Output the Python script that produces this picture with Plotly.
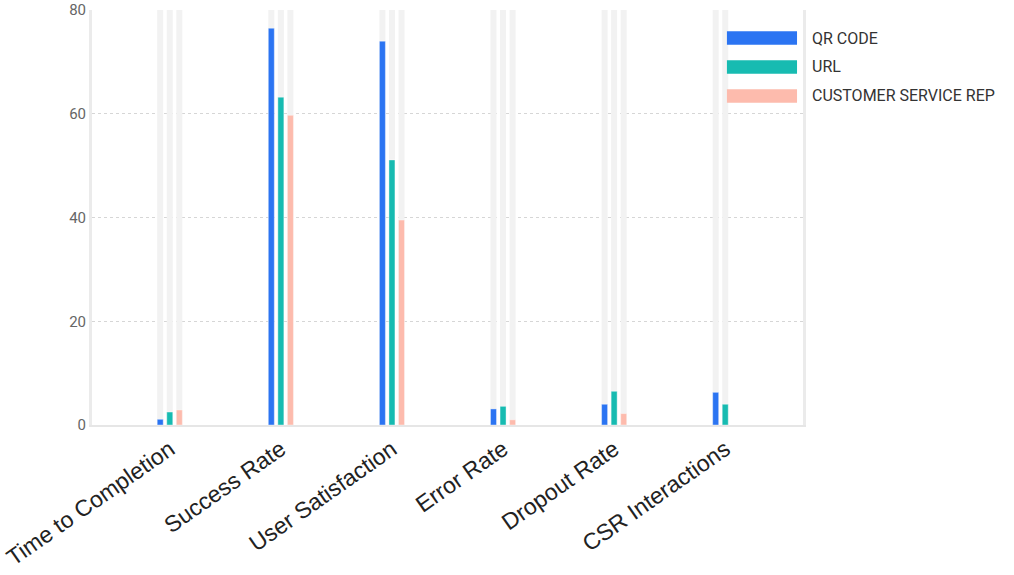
import plotly.graph_objects as go

metrics = ["Time to Completion", "Success Rate", "User Satisfaction",
           "Error Rate", "Dropout Rate", "CSR Interactions"]
qr_code = [1.1, 76.5, 74.0, 3.1, 4.0, 6.3]
url = [2.5, 63.2, 51.1, 3.6, 6.5, 4.0]
csr = [2.9, 59.7, 39.5, 1.0, 2.2, None]

series = [("QR CODE", qr_code, "#2b74f2"),
          ("URL", url, "#17bbb1"),
          ("CUSTOMER SERVICE REP", csr, "#fdbbad")]

y_max = 80
bar_w = 0.054
step = 0.086

fig = go.Figure()

# grey tracks behind each bar
for i, (name, vals, color) in enumerate(series):
    track = [y_max if v is not None else None for v in vals]
    fig.add_trace(go.Bar(x=metrics, y=track, width=bar_w,
                         offset=(i - 1) * step - bar_w / 2,
                         marker=dict(color="#f2f2f2", line=dict(width=0)),
                         hoverinfo="skip", showlegend=False))

for i, (name, vals, color) in enumerate(series):
    fig.add_trace(go.Bar(x=metrics, y=vals, name=name, width=bar_w,
                         offset=(i - 1) * step - bar_w / 2,
                         marker=dict(color=color, line=dict(width=0.8, color="rgba(255,255,255,0.5)")),
                         showlegend=False))

# legend drawn by hand so the swatches are wide bars
row_y = [0.9325, 0.8627, 0.7928]
for (name, vals, color), yc in zip(series, row_y):
    fig.add_shape(type="rect", xref="paper", yref="paper",
                  x0=0.893, x1=0.9916, y0=yc - 0.0165, y1=yc + 0.0165,
                  fillcolor=color, line=dict(width=0))
    fig.add_annotation(text=name, xref="paper", yref="paper", x=1.0098, y=yc,
                       xanchor="left", yanchor="middle", showarrow=False,
                       font=dict(family="Roboto", size=16, color="#333333"))

fig.update_layout(
    barmode="overlay",
    plot_bgcolor="white",
    paper_bgcolor="white",
    width=1014, height=575,
    margin=dict(l=92, r=211, t=10, b=150),
    font=dict(family="Roboto"),
    showlegend=False,
)
fig.update_xaxes(range=[-0.7, 5.7], tickangle=-35, showgrid=False, automargin=False,
                 tickfont=dict(family="Arial", size=23, color="#222222"),
                 showline=True, linecolor="#e6e6e6", linewidth=2, ticks="")
fig.update_yaxes(range=[0, y_max], dtick=20, showgrid=True, gridcolor="#d6d6d6",
                 griddash="dot", zeroline=False, showline=True, mirror=True,
                 linecolor="#ebebeb", linewidth=3, automargin=False,
                 tickfont=dict(family="Roboto", size=15, color="#666666"))

# no page margin, so the figure sits at the window's corner
fig.write_html("out.html", config={"displayModeBar": False},
               post_script="document.body.style.margin='0';")
